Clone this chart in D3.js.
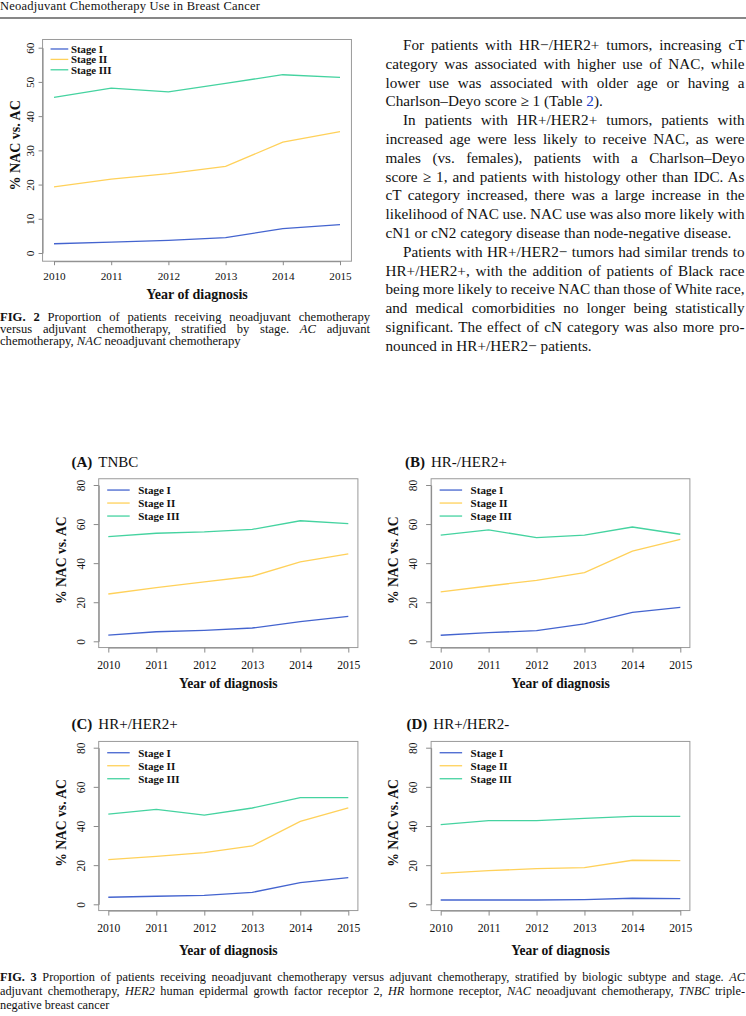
<!DOCTYPE html>
<html>
<head>
<meta charset="utf-8">
<script src="https://cdn.jsdelivr.net/npm/d3@7"></script>
<style>
  body { margin: 0; background: #fff; }
  svg { display: block; font-family: "Liberation Serif", "Times New Roman", serif; }
</style>
</head>
<body>
<svg id="page" width="746" height="1016"></svg>
<script>
// ---- data ----
const years = [2010, 2011, 2012, 2013, 2014, 2015];
const stages = ['Stage I', 'Stage II', 'Stage III'];
const stageColors = ['#4464cf', '#ffd15a', '#45d3a0'];

const overallStageI   = [2.7, 3.2, 3.7, 4.5, 7.1, 8.3];
const overallStageII  = [19.3, 21.6, 23.2, 25.3, 32.4, 35.5];
const overallStageIII = [45.5, 48.2, 47.1, 49.6, 52.1, 51.3];

const tnbcStageI   = [3.2, 4.9, 5.6, 6.8, 10.1, 12.8];
const tnbcStageII  = [24.2, 27.5, 30.4, 33.3, 40.6, 44.7];
const tnbcStageIII = [53.6, 55.3, 56.0, 57.3, 61.7, 60.2];

const hrnegHer2posStageI   = [3.1, 4.4, 5.5, 8.9, 14.8, 17.4];
const hrnegHer2posStageII  = [25.3, 28.3, 31.2, 35.2, 46.2, 52.2];
const hrnegHer2posStageIII = [54.3, 57.0, 53.1, 54.3, 58.5, 54.8];

const hrposHer2posStageI   = [3.6, 4.1, 4.6, 6.1, 11.1, 13.6];
const hrposHer2posStageII  = [22.8, 24.5, 26.4, 29.8, 42.4, 49.2];
const hrposHer2posStageIII = [46.1, 48.5, 45.6, 49.2, 54.5, 54.5];

const hrposHer2negStageI   = [2.2, 2.2, 2.2, 2.4, 3.1, 2.9];
const hrposHer2negStageII  = [15.8, 17.2, 18.2, 18.7, 22.5, 22.3];
const hrposHer2negStageIII = [40.7, 42.7, 42.7, 43.9, 44.9, 44.9];

const overallTicks = [0, 10, 20, 30, 40, 50, 60];
const subtypeTicks = [0, 20, 40, 60, 80];

// ---- text ----
const headerText = 'Neoadjuvant Chemotherapy Use in Breast Cancer';
const bodyLines = [
  // [text, indent, justify]
  ['For patients with HR−/HER2+ tumors, increasing cT', true, true],
  ['category was associated with higher use of NAC, while', false, true],
  ['lower use was associated with older age or having a', false, true],
  ['Charlson–Deyo score ≥ 1 (Table [2]).', false, false],
  ['In patients with HR+/HER2+ tumors, patients with', true, true],
  ['increased age were less likely to receive NAC, as were', false, true],
  ['males (vs. females), patients with a Charlson–Deyo', false, true],
  ['score ≥ 1, and patients with histology other than IDC. As', false, true],
  ['cT category increased, there was a large increase in the', false, true],
  ['likelihood of NAC use. NAC use was also more likely with', false, true],
  ['cN1 or cN2 category disease than node-negative disease.', false, false],
  ['Patients with HR+/HER2− tumors had similar trends to', true, true],
  ['HR+/HER2+, with the addition of patients of Black race', false, true],
  ['being more likely to receive NAC than those of White race,', false, true],
  ['and medical comorbidities no longer being statistically', false, true],
  ['significant. The effect of cN category was also more pro-', false, true],
  ['nounced in HR+/HER2− patients.', false, false]
];
const fig2Caption = [
  ['**FIG. 2** Proportion of patients receiving neoadjuvant chemotherapy', true],
  ['versus adjuvant chemotherapy, stratified by stage. *AC* adjuvant', true],
  ['chemotherapy, *NAC* neoadjuvant chemotherapy', false]
];
const fig3Caption = [
  ['**FIG. 3** Proportion of patients receiving neoadjuvant chemotherapy versus adjuvant chemotherapy, stratified by biologic subtype and stage. *AC*', true],
  ['adjuvant chemotherapy, *HER2* human epidermal growth factor receptor 2, *HR* hormone receptor, *NAC* neoadjuvant chemotherapy, *TNBC* triple-', true],
  ['negative breast cancer', false]
];

const svg = d3.select('#page');

// writes a line with **bold**, *italic* and [link] pieces, optionally justified
function textLine(x, y, str, fs, width, justify) {
  const t = svg.append('text').attr('x', x).attr('y', y)
    .style('font-size', fs + 'px').attr('fill', '#111');
  str.split(/(\*\*[^*]+\*\*|\*[^*]+\*|\[[^\]]+\])/).filter(s => s.length).forEach(s => {
    const sp = t.append('tspan');
    if (s.startsWith('**')) sp.text(s.slice(2, -2)).style('font-weight', 'bold');
    else if (s.startsWith('*')) sp.text(s.slice(1, -1)).style('font-style', 'italic');
    else if (s.startsWith('[')) sp.text(s.slice(1, -1)).attr('fill', '#1a3cc8');
    else sp.text(s);
  });
  if (justify) {
    const w = t.node().getComputedTextLength();
    const n = (str.match(/ /g) || []).length;
    if (n) t.style('word-spacing', ((width - w) / n) + 'px');
  }
  return t;
}

// header
svg.append('text').attr('x', 0).attr('y', 10)
  .style('font-size', '12.5px').attr('fill', '#111')
  .attr('textLength', 260).attr('lengthAdjust', 'spacing')
  .text(headerText);
svg.append('line').attr('x1', 0).attr('x2', 746).attr('y1', 18).attr('y2', 18)
  .attr('stroke', '#111').attr('stroke-width', 1.2);

// body text on the right column
bodyLines.forEach((l, i) => {
  const x = l[1] ? 403 : 385.5;
  textLine(x, 50 + i * 18.8, l[0], 15.2, 744.5 - x, l[2]);
});

// captions
fig2Caption.forEach((l, i) => textLine(0, 320.5 + i * 12.4, l[0], 12.6, 370, l[1]));
fig3Caption.forEach((l, i) => textLine(0, 981 + i * 13.8, l[0], 12.3, 745, l[1]));

// ---- chart panels ----
function drawPanel(cfg) {
  const x = d3.scaleLinear().domain([2010, 2015]).range([cfg.x0, cfg.x1]);
  const y = d3.scaleLinear().domain([0, cfg.yMax]).range([cfg.y0, cfg.y1]);
  const padX = (cfg.x1 - cfg.x0) * 0.04, padY = (cfg.y0 - cfg.y1) * 0.04;
  const box = { l: cfg.x0 - padX, r: cfg.x1 + padX, t: cfg.y1 - padY, b: cfg.y0 + padY };
  const g = svg.append('g');

  // lines
  const line = d3.line().x((d, i) => x(years[i])).y(d => y(d));
  cfg.series.forEach((s, k) => {
    g.append('path').datum(s).attr('d', line)
      .attr('fill', 'none').attr('stroke', stageColors[k]).attr('stroke-width', 1.3);
  });

  // frame
  g.append('rect').attr('x', box.l).attr('y', box.t)
    .attr('width', box.r - box.l).attr('height', box.b - box.t)
    .attr('fill', 'none').attr('stroke', '#9a9a9a').attr('stroke-width', 1);

  // x axis
  const xa = g.append('g').attr('transform', `translate(0,${box.b})`)
    .call(d3.axisBottom(x).tickValues(years).tickFormat(d3.format('d'))
      .tickSize(cfg.tick).tickSizeOuter(0));
  xa.selectAll('path, line').attr('stroke', '#8a8a8a');
  xa.selectAll('text').attr('y', cfg.xLabOff).attr('dy', 0)
    .attr('fill', '#111').style('font-size', cfg.tickFs + 'px')
    .style('font-family', '"Liberation Serif", serif');

  // y axis
  const ya = g.append('g').attr('transform', `translate(${box.l},0)`)
    .call(d3.axisLeft(y).tickValues(cfg.ticks).tickSize(cfg.tick).tickSizeOuter(0));
  ya.selectAll('path, line').attr('stroke', '#8a8a8a');
  ya.selectAll('text').attr('transform', 'rotate(-90)')
    .attr('x', 0).attr('y', -cfg.yLabOff).attr('dy', 0).attr('text-anchor', 'middle')
    .attr('fill', '#111').style('font-size', cfg.tickFs + 'px')
    .style('font-family', '"Liberation Serif", serif');

  // axis titles
  g.append('text').attr('x', (box.l + box.r) / 2).attr('y', box.b + cfg.xTitleOff)
    .attr('text-anchor', 'middle').style('font-weight', 'bold')
    .style('font-size', cfg.titleFs + 'px').attr('fill', '#111').text('Year of diagnosis');
  g.append('text')
    .attr('transform', `translate(${box.l - cfg.yTitleOff},${(box.t + box.b) / 2 - cfg.yTitleShift}) rotate(-90)`)
    .attr('text-anchor', 'middle').style('font-weight', 'bold')
    .style('font-size', cfg.titleFs + 'px').attr('fill', '#111').text('% NAC vs. AC');

  // legend
  stages.forEach((s, k) => {
    const ly = box.t + cfg.legTop + k * cfg.legStep;
    g.append('line').attr('x1', box.l + cfg.legX0).attr('x2', box.l + cfg.legX1)
      .attr('y1', ly).attr('y2', ly).attr('stroke', stageColors[k]).attr('stroke-width', 1.3);
    g.append('text').attr('x', box.l + cfg.legText).attr('y', ly + cfg.legFs * 0.35)
      .style('font-weight', 'bold').style('font-size', cfg.legFs + 'px')
      .attr('fill', '#111').text(s);
  });

  // panel title
  if (cfg.tag) {
    const tt = g.append('text').attr('x', cfg.tagX).attr('y', box.t - 12)
      .style('font-size', '15px').attr('fill', '#111');
    tt.append('tspan').style('font-weight', 'bold').text(cfg.tag);
    tt.append('tspan').attr('dx', 6).text(cfg.name);
  }
}

const topStyle = {
  yMax: 60, ticks: overallTicks, tick: 4, tickFs: 11.2, titleFs: 14,
  xLabOff: 19, yLabOff: 8.6, xTitleOff: 38, yTitleOff: 23, yTitleShift: 5,
  legTop: 9.5, legStep: 10.4, legX0: 8, legX1: 25.7, legText: 28.4, legFs: 10.8
};
const subStyle = {
  yMax: 80, ticks: subtypeTicks, tick: 5, tickFs: 11.6, titleFs: 13.6,
  xLabOff: 21.7, yLabOff: 13.8, xTitleOff: 40.5, yTitleOff: 33, yTitleShift: 3,
  legTop: 11.3, legStep: 13, legX0: 8.5, legX1: 31, legText: 39.5, legFs: 11
};

drawPanel(Object.assign({}, topStyle, {
  x0: 54, x1: 340, y0: 253, y1: 47.7,
  series: [overallStageI, overallStageII, overallStageIII]
}));
drawPanel(Object.assign({}, subStyle, {
  x0: 108.3, x1: 348.3, y0: 641.3, y1: 485, tag: '(A)', name: 'TNBC', tagX: 71.5,
  series: [tnbcStageI, tnbcStageII, tnbcStageIII]
}));
drawPanel(Object.assign({}, subStyle, {
  x0: 440.7, x1: 680.3, y0: 641.3, y1: 485, tag: '(B)', name: 'HR-/HER2+', tagX: 405,
  series: [hrnegHer2posStageI, hrnegHer2posStageII, hrnegHer2posStageIII]
}));
drawPanel(Object.assign({}, subStyle, {
  x0: 108.3, x1: 348.3, y0: 904.3, y1: 747.7, tag: '(C)', name: 'HR+/HER2+', tagX: 71.5,
  xTitleOff: 44, series: [hrposHer2posStageI, hrposHer2posStageII, hrposHer2posStageIII]
}));
drawPanel(Object.assign({}, subStyle, {
  x0: 440.7, x1: 680.3, y0: 904.3, y1: 747.7, tag: '(D)', name: 'HR+/HER2-', tagX: 406.5,
  xTitleOff: 44, series: [hrposHer2negStageI, hrposHer2negStageII, hrposHer2negStageIII]
}));
</script>
</body>
</html>
